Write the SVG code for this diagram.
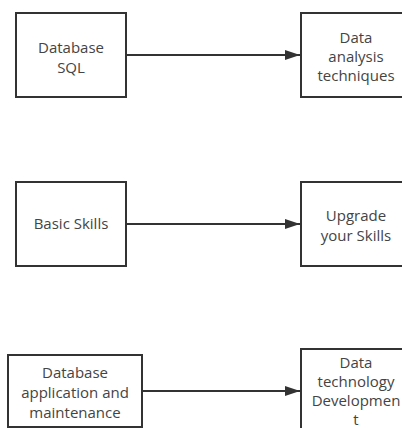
<svg xmlns="http://www.w3.org/2000/svg" width="402" height="428" viewBox="0 0 402 428">
  <defs>
    <style>
      .box { fill: #ffffff; stroke: #333333; stroke-width: 2; }
      .lbl { font-family: "Open Sans", "Noto Sans", "Liberation Sans", sans-serif; font-size: 15px; fill: #444444; text-anchor: middle; }
      .edge { stroke: #333333; stroke-width: 2; fill: none; marker-end: url(#arrow); }
    </style>
    <marker id="arrow" viewBox="0 0 15 10" refX="15" refY="5" markerWidth="15" markerHeight="10" markerUnits="userSpaceOnUse" orient="auto">
      <path d="M0,0 L15,5 L0,10 Z" fill="#333333"/>
    </marker>
  </defs>
  <rect width="402" height="428" fill="#ffffff"/>

  <g id="n1">
    <rect class="box" x="16" y="13" width="110" height="84"/>
    <text class="lbl" x="71" y="53">Database</text>
    <text class="lbl" x="71" y="73">SQL</text>
  </g>
  <g id="n2">
    <rect class="box" x="301" y="13" width="110" height="84"/>
    <text class="lbl" x="356" y="43">Data</text>
    <text class="lbl" x="356" y="62">analysis</text>
    <text class="lbl" x="356" y="81">techniques</text>
  </g>
  <g id="n3">
    <rect class="box" x="16" y="182" width="110" height="84"/>
    <text class="lbl" x="71" y="229">Basic Skills</text>
  </g>
  <g id="n4">
    <rect class="box" x="301" y="182" width="110" height="84"/>
    <text class="lbl" x="356" y="221">Upgrade</text>
    <text class="lbl" x="356" y="241">your Skills</text>
  </g>
  <g id="n5">
    <rect class="box" x="8" y="355" width="134" height="72"/>
    <text class="lbl" x="75" y="378">Database</text>
    <text class="lbl" x="75" y="398">application and</text>
    <text class="lbl" x="75" y="418">maintenance</text>
  </g>
  <g id="n6">
    <rect class="box" x="301" y="349" width="110" height="90"/>
    <text class="lbl" x="356" y="368">Data</text>
    <text class="lbl" x="356" y="387">technology</text>
    <text class="lbl" x="356" y="406">Developmen</text>
    <text class="lbl" x="356" y="425">t</text>
  </g>

  <g id="connectors">
    <line class="edge" x1="126" y1="55" x2="300" y2="55"/>
    <line class="edge" x1="126" y1="224" x2="300" y2="224"/>
    <line class="edge" x1="142" y1="391" x2="300" y2="391"/>
  </g>
</svg>
